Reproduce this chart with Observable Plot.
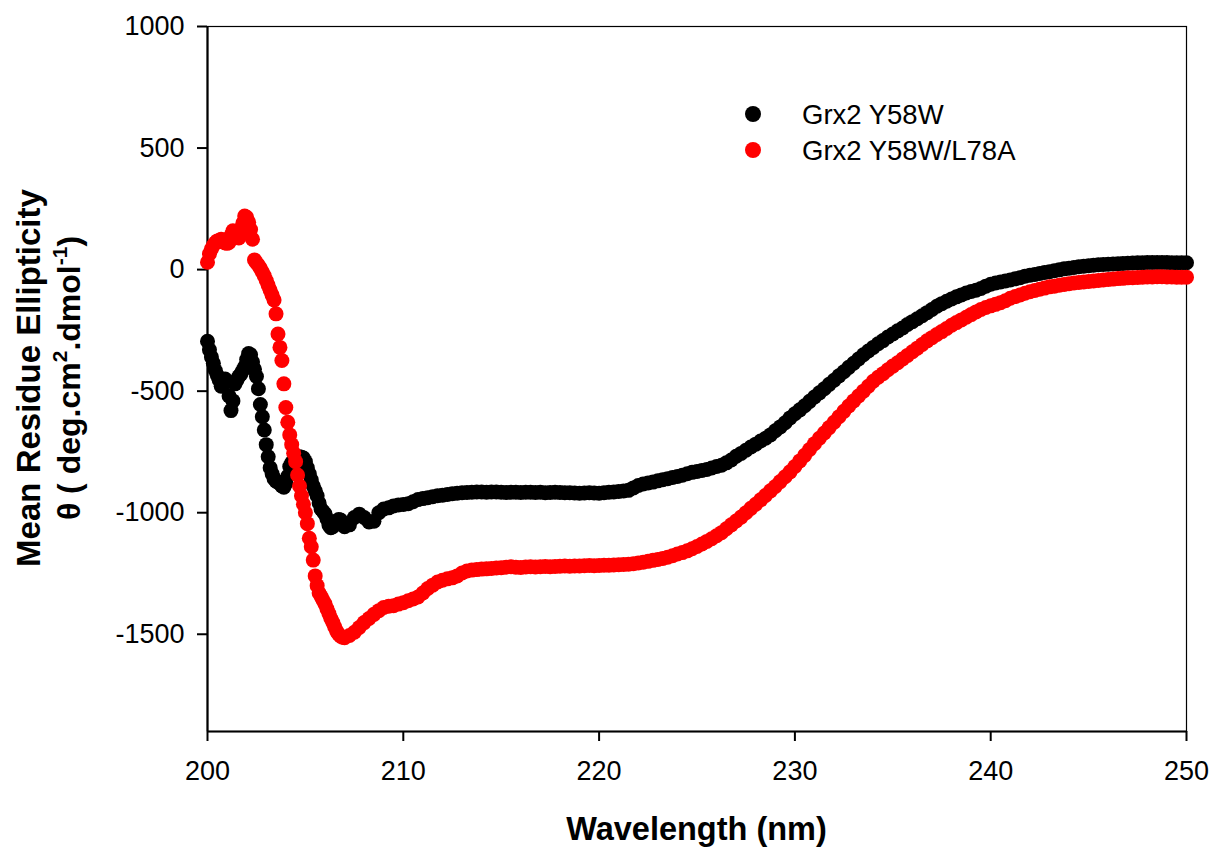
<!DOCTYPE html>
<html><head><meta charset="utf-8">
<script src="https://cdn.jsdelivr.net/npm/d3@7"></script>
<script src="https://cdn.jsdelivr.net/npm/@observablehq/plot@0.6"></script>
<style>body{margin:0;background:#fff}</style>
</head><body><div id="chart"></div>
<script>
const seriesNames = ["Grx2 Y58W", "Grx2 Y58W/L78A"];
const seriesColors = ["#000000", "#ff0000"];
const xTicks = [200, 210, 220, 230, 240, 250];
const yTicks = [-1500, -1000, -500, 0, 500, 1000];
const xLabel = "Wavelength (nm)";
const yLabel1 = "Mean Residue Ellipticity";

// wavelengths (nm): 0.1 nm steps up to 207, then 0.25 nm steps
const wavelength = [
  200.0,200.1,200.2,200.3,200.4,200.5,200.6,200.7,200.8,200.9,
  201.0,201.1,201.2,201.3,201.4,201.5,201.6,201.7,201.8,201.9,
  202.0,202.1,202.2,202.3,202.4,202.5,202.6,202.7,202.8,202.9,
  203.0,203.1,203.2,203.3,203.4,203.5,203.6,203.7,203.8,203.9,
  204.0,204.1,204.2,204.3,204.4,204.5,204.6,204.7,204.8,204.9,
  205.0,205.1,205.2,205.3,205.4,205.5,205.6,205.7,205.8,205.9,
  206.0,206.1,206.2,206.3,206.4,206.5,206.6,206.7,206.8,206.9,
  207.0,
  207.25,207.5,207.75,208.0,
  208.25,208.5,208.75,209.0,209.25,209.5,209.75,210.0,
  210.25,210.5,210.75,211.0,211.25,211.5,211.75,212.0,
  212.25,212.5,212.75,213.0,213.25,213.5,213.75,214.0,
  214.25,214.5,214.75,215.0,215.25,215.5,215.75,216.0,
  216.25,216.5,216.75,217.0,217.25,217.5,217.75,218.0,
  218.25,218.5,218.75,219.0,219.25,219.5,219.75,220.0,
  220.25,220.5,220.75,221.0,221.25,221.5,221.75,222.0,
  222.25,222.5,222.75,223.0,223.25,223.5,223.75,224.0,
  224.25,224.5,224.75,225.0,225.25,225.5,225.75,226.0,
  226.25,226.5,226.75,227.0,227.25,227.5,227.75,228.0,
  228.25,228.5,228.75,229.0,229.25,229.5,229.75,230.0,
  230.25,230.5,230.75,231.0,231.25,231.5,231.75,232.0,
  232.25,232.5,232.75,233.0,233.25,233.5,233.75,234.0,
  234.25,234.5,234.75,235.0,235.25,235.5,235.75,236.0,
  236.25,236.5,236.75,237.0,237.25,237.5,237.75,238.0,
  238.25,238.5,238.75,239.0,239.25,239.5,239.75,240.0,
  240.25,240.5,240.75,241.0,241.25,241.5,241.75,242.0,
  242.25,242.5,242.75,243.0,243.25,243.5,243.75,244.0,
  244.25,244.5,244.75,245.0,245.25,245.5,245.75,246.0,
  246.25,246.5,246.75,247.0,247.25,247.5,247.75,248.0,
  248.25,248.5,248.75,249.0,249.25,249.5,249.75,250.0
];

// Grx2 Y58W
const y58w = [
  -295,-330,-360,-385,-415,-435,-455,-480,-470,-450,
  -460,-520,-580,-540,-470,-455,-440,-430,-415,-400,
  -370,-345,-350,-380,-410,-440,-490,-555,-605,-660,
  -720,-770,-815,-840,-860,-870,-875,-880,-890,-895,
  -880,-850,-810,-795,-800,-785,-775,-770,-772,-775,
  -790,-815,-840,-865,-890,-910,-930,-960,-985,-995,
  -1005,-1025,-1050,-1062,-1058,-1045,-1035,-1028,-1030,-1045,
  -1058,
  -1050,-1020,-1006,-1020,
  -1038,-1035,-1000,-985,-980,-972,-968,-966,
  -963,-955,-946,-942,-938,-934,-930,-928,
  -925,-922,-920,-918,-917,-916,-915,-915,
  -916,-915,-915,-916,-917,-916,-916,-917,
  -916,-916,-917,-916,-918,-917,-916,-917,
  -918,-918,-919,-920,-919,-918,-919,-920,
  -918,-916,-915,-913,-911,-908,-898,-888,
  -882,-878,-874,-869,-864,-860,-855,-851,
  -846,-840,-834,-830,-826,-822,-816,-810,
  -805,-795,-783,-768,-756,-743,-730,-718,
  -705,-694,-680,-663,-647,-630,-610,-593,
  -577,-560,-542,-524,-507,-490,-472,-455,
  -437,-420,-402,-385,-368,-350,-335,-320,
  -305,-292,-277,-265,-252,-240,-226,-214,
  -202,-190,-177,-164,-151,-140,-130,-121,
  -112,-104,-96,-90,-85,-78,-68,-60,
  -55,-51,-47,-43,-38,-33,-27,-23,
  -20,-16,-12,-9,-5,-1,3,6,
  9,12,14,16,18,20,21,22,
  23,24,25,26,27,28,28,29,
  29,29,29,29,28,28,28,28
];

// Grx2 Y58W/L78A
const y58wL78a = [
  30,65,85,100,110,118,120,125,115,110,
  108,112,140,160,150,140,130,150,190,220,
  215,195,165,125,40,28,18,5,-10,-25,
  -45,-65,-85,-105,-125,-182,-265,-320,-374,-470,
  -567,-628,-680,-720,-755,-790,-845,-890,-930,-965,
  -1000,-1045,-1105,-1140,-1195,-1260,-1300,-1330,-1345,-1360,
  -1375,-1395,-1415,-1435,-1452,-1470,-1488,-1500,-1508,-1512,
  -1514,
  -1505,-1492,-1472,-1452,
  -1435,-1418,-1403,-1390,-1385,-1383,-1376,-1370,
  -1362,-1355,-1347,-1330,-1312,-1298,-1285,-1278,
  -1272,-1268,-1260,-1248,-1240,-1236,-1234,-1232,
  -1231,-1229,-1227,-1226,-1224,-1222,-1224,-1225,
  -1223,-1222,-1223,-1222,-1221,-1222,-1221,-1220,
  -1219,-1220,-1219,-1219,-1218,-1217,-1218,-1217,
  -1216,-1216,-1215,-1214,-1213,-1212,-1210,-1207,
  -1204,-1200,-1196,-1192,-1188,-1183,-1177,-1170,
  -1164,-1157,-1148,-1139,-1129,-1118,-1107,-1095,
  -1082,-1066,-1050,-1034,-1018,-1000,-982,-965,
  -947,-929,-910,-892,-872,-852,-832,-810,
  -787,-764,-740,-716,-694,-672,-650,-628,
  -605,-583,-561,-540,-520,-500,-480,-459,
  -443,-428,-412,-397,-383,-368,-353,-338,
  -323,-308,-293,-280,-267,-255,-242,-229,
  -218,-207,-196,-185,-174,-164,-156,-149,
  -143,-136,-128,-118,-111,-104,-97,-91,
  -86,-81,-76,-71,-68,-64,-61,-58,
  -55,-53,-51,-49,-47,-45,-43,-41,
  -39,-37,-36,-34,-33,-32,-31,-30,
  -30,-29,-29,-30,-30,-31,-31,-31
];

const seriesValues = [y58w, y58wL78a];
const rows = [];
seriesValues.forEach((vals, si) => {
  const n = Math.min(vals.length, wavelength.length);
  if (vals.length !== wavelength.length) console.warn("length mismatch", si, vals.length, wavelength.length);
  for (let i = 0; i < n; i++) rows.push({wl: wavelength[i], v: vals[i], s: seriesNames[si]});
});

const font = "'Liberation Sans', Arial, Helvetica, sans-serif";
const plot = Plot.plot({
  width: 1215, height: 851,
  marginLeft: 207, marginRight: 29, marginTop: 26, marginBottom: 120,
  style: {fontFamily: font, fontSize: "27px", background: "#fff", color: "#000", overflow: "visible"},
  x: {domain: [200, 250]},
  y: {domain: [-1900, 1000]},
  color: {domain: seriesNames, range: seriesColors},
  marks: [
    Plot.frame({stroke: "#000", strokeWidth: 1.2}),
    Plot.axisX({ticks: xTicks, tickSize: 10, tickPadding: 19, strokeWidth: 2, label: null, tickFormat: d => String(d)}),
    Plot.axisY({ticks: yTicks, tickSize: 10, tickPadding: 13, strokeWidth: 2, label: null, tickFormat: d => String(d)}),
    Plot.ruleX([200], {strokeWidth: 2.2}),
    Plot.ruleY([-1900], {strokeWidth: 2.2}),
    Plot.dot(rows.filter(d => d.s === seriesNames[0]), {x: "wl", y: "v", r: 7.5, fill: "s", stroke: null}),
    Plot.dot(rows.filter(d => d.s === seriesNames[1]), {x: "wl", y: "v", r: 7.5, fill: "s", stroke: null})
  ]
});
document.getElementById("chart").appendChild(plot);

const svg = d3.select(plot);
// legend
const leg = svg.append("g").attr("font-family", font).attr("font-size", 27.5).attr("text-anchor", "start");
seriesNames.forEach((name, i) => {
  const cy = 114 + i * 36;
  leg.append("circle").attr("cx", 753).attr("cy", cy).attr("r", 8).attr("fill", seriesColors[i]);
  leg.append("text").attr("x", 802).attr("y", cy + 10).attr("text-anchor", "start").attr("fill", "#000").text(name);
});
// x label
svg.append("text").attr("x", 696.5).attr("y", 840).attr("text-anchor", "middle")
  .attr("font-family", font).attr("font-weight", "bold").attr("font-size", 32.5).attr("fill", "#000").text(xLabel);
// y label (two lines, rotated)
const yl = svg.append("g").attr("font-family", font).attr("font-weight", "bold").attr("fill", "#000");
yl.append("text").attr("transform", "translate(40,378) rotate(-90)").attr("text-anchor", "middle")
  .attr("font-size", 33).text(yLabel1);
const t2 = yl.append("text").attr("transform", "translate(80,378) rotate(-90)").attr("text-anchor", "middle").attr("font-size", 32);
t2.append("tspan").text("\u03B8 ( deg.cm");
t2.append("tspan").attr("font-size", 21).attr("dy", -13).text("2");
t2.append("tspan").attr("dy", 13).text(".dmol");
t2.append("tspan").attr("font-size", 21).attr("dy", -13).text("-1");
t2.append("tspan").attr("dy", 13).text(")");
</script>
</body></html>
